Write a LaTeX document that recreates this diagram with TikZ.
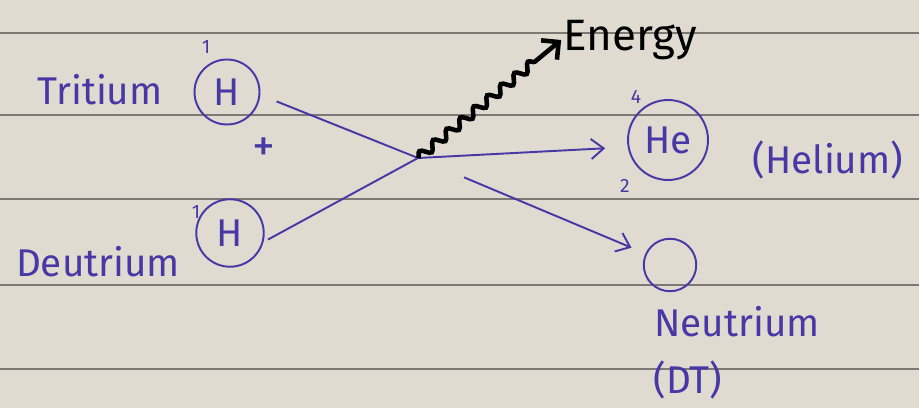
\documentclass[tikz,border=0pt]{standalone}
\usepackage{fontspec}
\setmainfont{Fira Sans}
\usepackage{xcolor}
\usepackage{tikz}
\usetikzlibrary {arrows.meta}
\usetikzlibrary{decorations.pathmorphing}
\definecolor{paper}{RGB}{224,219,209}
\definecolor{rulegray}{RGB}{125,120,115}
\definecolor{ink}{RGB}{72,56,165}
\tikzset{
  pen/.style={color=ink, line width=1.1pt},
  atom/.style={circle, draw=ink, line width=1.1pt, text=ink, inner sep=0pt, font=\fontsize{22}{24}\selectfont},
  word/.style={text=ink, inner sep=1pt, font=\fontsize{22}{26}\selectfont},
  tiny/.style={text=ink, inner sep=0pt, font=\fontsize{11}{12}\selectfont},
}

\begin{document}
\begin{tikzpicture}[x=0.02cm, y=-0.02cm]
    % Paper
    \fill[paper] (0,0) rectangle (919,408);
    \useasboundingbox (0,0) rectangle (919,408);
    \foreach \y in {33,115,199,285,369}
        \draw[rulegray, line width=1pt] (0,\y) -- (919,\y);
    % Reactants
    \node[word] (tritium) at (100,90) {Tritium};
    \node[atom, minimum size=1.3cm] (T) at (227,92) {H};
    \node[tiny] (Tmass) at (206,47) {1};
    \node[text=ink, font=\fontsize{26}{28}\selectfont] (plus) at (264,150) {+};
    \node[word] (deutrium) at (98,262) {Deutrium};
    \node[atom, minimum size=1.35cm] (D) at (230,233) {H};
    \node[tiny] (Dmass) at (196,212) {1};
    \coordinate (mid) at (418,158);
    % Products
    \node[atom, minimum size=1.6cm] (He) at (668,140) {He};
    \node[tiny] (Hemass) at (636,97) {4};
    \node[tiny] (Heno) at (625,186) {2};
    \node[word] (helium) at (828,160) {(Helium)};
    \node[atom, minimum size=1.05cm] (N) at (670,265) {};
    \node[word] (neutrium) at (737,322) {Neutrium};
    \node[word] (dt) at (688,380) {(DT)};
    \node[text=black, inner sep=1pt, font=\fontsize{25}{28}\selectfont] (En) at (630,40) {Energy};
    % Arrows
    \draw[pen, shorten <=0.35cm] (T.-5) -- (mid);
    \draw[pen, shorten <=0.1cm] (D.-15) -- (mid);
    \draw[pen, arrows = {-Straight Barb[length=2.5mm, width=4mm]}, shorten >=0.45cm] (mid) -- (He.190);
    \draw[pen, arrows = {-Straight Barb[length=2.5mm, width=4mm]}, shorten <=1cm, shorten >=0.3cm] (mid) -- (N.155);
    \draw[black, line width=2.6pt, arrows = {-Straight Barb[length=2.5mm, width=5mm]},
          decorate, decoration={snake, amplitude=2.5pt, segment length=10pt, post length=5mm}] (mid) -- (En.west);
\end{tikzpicture}
\end{document}
